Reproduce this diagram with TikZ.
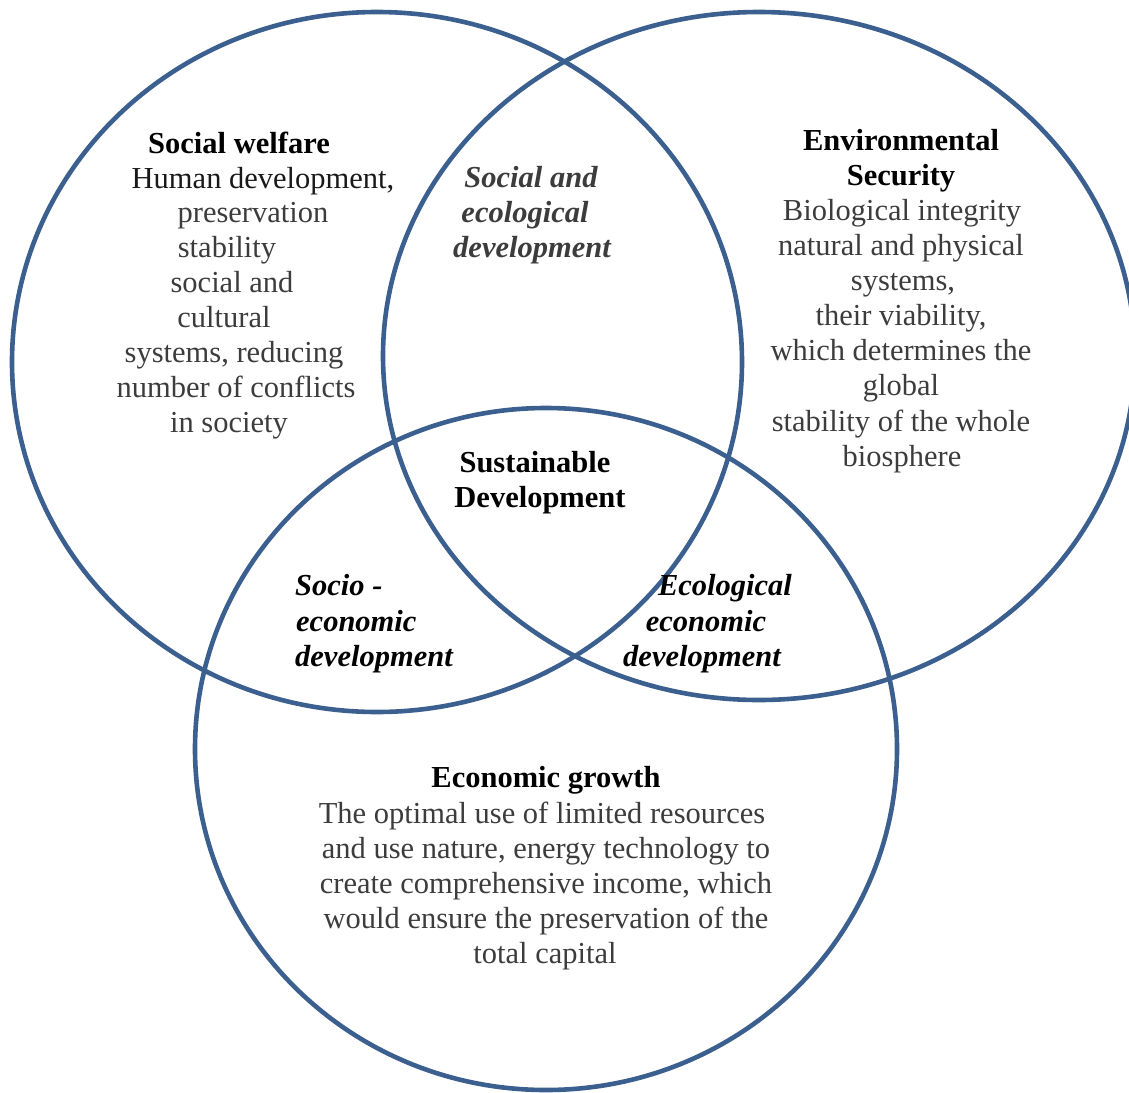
\documentclass[tikz,border=0pt]{standalone}
\usepackage{fontspec}
\setmainfont{Liberation Serif}
\definecolor{ringblue}{RGB}{59,95,143}
\definecolor{txtgray}{RGB}{60,60,60}
\begin{document}
\begin{tikzpicture}[x=1pt,y=-1pt,
  txtline/.style={anchor=base,inner sep=0pt,font=\fontsize{30.5}{35.4}\selectfont,text=txtgray},
  headline/.style={txtline,text=black,font=\fontsize{30.5}{35.4}\selectfont\bfseries},
  ovlabel/.style={txtline,text=black,font=\fontsize{30.5}{35.4}\selectfont\bfseries\itshape},
  ringline/.style={draw=ringblue,line width=4.6pt}]
\useasboundingbox (0,0) rectangle (1129,1092);

% circles
\draw[ringline] (377,362) ellipse [x radius=365pt, y radius=350pt];
\draw[ringline] (759,356) ellipse [x radius=376pt, y radius=344pt];
\draw[ringline] (546,749) ellipse [x radius=351pt, y radius=341pt];

% Social welfare
\node[headline] (sw0) at (239,153) {Social welfare};
\node[txtline,text=black!90] (sw1) at (263,188) {Human development,};
\node[txtline] (sw2) at (253,222) {preservation};
\node[txtline] (sw3) at (227,257) {stability};
\node[txtline] (sw4) at (232,292) {social and};
\node[txtline] (sw5) at (224,327) {cultural};
\node[txtline] (sw6) at (234,362) {systems, reducing};
\node[txtline] (sw7) at (236,397) {number of conflicts};
\node[txtline] (sw8) at (229,432) {in society};

% Social and ecological development
\node[ovlabel,text=txtgray] (se1) at (531,187) {Social and};
\node[ovlabel,text=txtgray] (se2) at (525,222) {ecological};
\node[ovlabel,text=txtgray] (se3) at (532,257) {development};

% Environmental Security
\node[headline] (es0) at (901,150) {Environmental};
\node[headline] (es1) at (901,185) {Security};
\node[txtline] (es2) at (902,220) {Biological integrity};
\node[txtline] (es3) at (901,255) {natural and physical};
\node[txtline] (es4) at (903,290) {systems,};
\node[txtline] (es5) at (901,325) {their viability,};
\node[txtline] (es6) at (901,360) {which determines the};
\node[txtline] (es7) at (901,395) {global};
\node[txtline] (es8) at (901,431) {stability of the whole};
\node[txtline] (es9) at (902,466) {biosphere};

% Sustainable Development
\node[headline] (sd1) at (535,472) {Sustainable};
\node[headline] (sd2) at (540,507) {Development};

% Socio-economic development
\node[ovlabel,anchor=base west] (so1) at (295,595) {Socio -};
\node[ovlabel,anchor=base west] (so2) at (296,631) {economic};
\node[ovlabel,anchor=base west] (so3) at (295,666) {development};

% Ecological economic development
\node[ovlabel] (ee1) at (725,595) {Ecological};
\node[ovlabel] (ee2) at (706,631) {economic};
\node[ovlabel] (ee3) at (702,666) {development};

% Economic growth
\node[headline] (eg0) at (546,787) {Economic growth};
\node[txtline] (eg1) at (542,823) {The optimal use of limited resources};
\node[txtline] (eg2) at (546,858) {and use nature, energy technology to};
\node[txtline] (eg3) at (546,893) {create comprehensive income, which};
\node[txtline] (eg4) at (546,928) {would ensure the preservation of the};
\node[txtline] (eg5) at (545,963) {total capital};
\end{tikzpicture}
\end{document}
